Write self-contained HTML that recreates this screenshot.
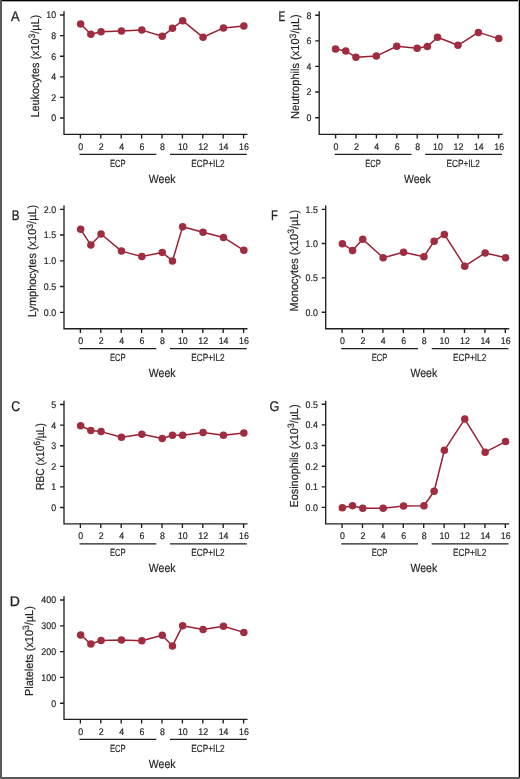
<!DOCTYPE html>
<html><head><meta charset="utf-8"><title>Figure</title>
<style>
html,body{margin:0;padding:0;background:#fff;}
body{width:520px;height:779px;overflow:hidden;}
svg{display:block;will-change:transform;}
text{text-rendering:geometricPrecision;font-family:"Liberation Sans", sans-serif;fill:#231f20;stroke:#231f20;stroke-width:0.18px;}
.ax{fill:none;stroke:#231f20;stroke-width:1.35;}
.tl{font-size:9.6px;}
.gl{font-size:10.4px;}
.wk{font-size:12.0px;}
.lt{font-size:14.0px;stroke-width:0.3px;}
.yl{font-size:11.6px;}
.dl{fill:none;stroke:#9b2036;stroke-width:1.5;stroke-linejoin:round;}
.mk{fill:#a02d3f;}
</style></head>
<body>
<svg width="520" height="779" viewBox="0 0 520 779">
<rect x="0" y="0" width="520" height="779" fill="#fff"/>
<path d="M64 11.3V134.4H247.5" class="ax"/>
<path d="M60 15H64M60 35.6H64M60 56.2H64M60 76.8H64M60 97.4H64M60 118H64M80.4 134.4v4.2M100.8 134.4v4.2M121.2 134.4v4.2M141.6 134.4v4.2M162 134.4v4.2M182.4 134.4v4.2M202.8 134.4v4.2M223.2 134.4v4.2M243.6 134.4v4.2" class="ax"/>
<path d="M79.5 154.3H156.3M170 154.3H246.8" class="ax"/>
<text x="56.1" y="18.4" class="tl" text-anchor="end" textLength="9.82" lengthAdjust="spacingAndGlyphs">10</text>
<text x="56.1" y="39" class="tl" text-anchor="end" textLength="4.91" lengthAdjust="spacingAndGlyphs">8</text>
<text x="56.1" y="59.6" class="tl" text-anchor="end" textLength="4.91" lengthAdjust="spacingAndGlyphs">6</text>
<text x="56.1" y="80.2" class="tl" text-anchor="end" textLength="4.91" lengthAdjust="spacingAndGlyphs">4</text>
<text x="56.1" y="100.8" class="tl" text-anchor="end" textLength="4.91" lengthAdjust="spacingAndGlyphs">2</text>
<text x="56.1" y="121.4" class="tl" text-anchor="end" textLength="4.91" lengthAdjust="spacingAndGlyphs">0</text>
<text x="80.8" y="149.8" class="tl" text-anchor="middle" textLength="4.91" lengthAdjust="spacingAndGlyphs">0</text>
<text x="101.2" y="149.8" class="tl" text-anchor="middle" textLength="4.91" lengthAdjust="spacingAndGlyphs">2</text>
<text x="121.6" y="149.8" class="tl" text-anchor="middle" textLength="4.91" lengthAdjust="spacingAndGlyphs">4</text>
<text x="142" y="149.8" class="tl" text-anchor="middle" textLength="4.91" lengthAdjust="spacingAndGlyphs">6</text>
<text x="162.4" y="149.8" class="tl" text-anchor="middle" textLength="4.91" lengthAdjust="spacingAndGlyphs">8</text>
<text x="182.8" y="149.8" class="tl" text-anchor="middle" textLength="9.82" lengthAdjust="spacingAndGlyphs">10</text>
<text x="203.2" y="149.8" class="tl" text-anchor="middle" textLength="9.82" lengthAdjust="spacingAndGlyphs">12</text>
<text x="223.6" y="149.8" class="tl" text-anchor="middle" textLength="9.82" lengthAdjust="spacingAndGlyphs">14</text>
<text x="244" y="149.8" class="tl" text-anchor="middle" textLength="9.82" lengthAdjust="spacingAndGlyphs">16</text>
<text x="110" y="166.6" class="gl" textLength="15.7" lengthAdjust="spacingAndGlyphs">ECP</text>
<text x="191.3" y="166.6" class="gl" textLength="33.3" lengthAdjust="spacingAndGlyphs">ECP+IL2</text>
<text x="148.8" y="182.8" class="wk" textLength="26.7" lengthAdjust="spacingAndGlyphs">Week</text>
<text x="10.97" y="21" class="lt" textLength="8.55" lengthAdjust="spacingAndGlyphs">A</text>
<text transform="translate(38.5 117.5) rotate(-90)" x="0" y="0" class="yl" textLength="102.7" lengthAdjust="spacingAndGlyphs">Leukocytes (x10<tspan font-size="9.2" dy="-3.8">3</tspan><tspan dy="3.8">/µL)</tspan></text>
<path d="M80.65 24 L90.85 34.3 L101.05 31.8 L121.45 31.1 L141.85 30.1 L162.25 36.3 L172.45 28.3 L182.65 20.7 L203.05 37.3 L223.45 27.9 L243.85 26.1" class="dl"/>
<circle cx="80.65" cy="24" r="3.75" class="mk"/>
<circle cx="90.85" cy="34.3" r="3.75" class="mk"/>
<circle cx="101.05" cy="31.8" r="3.75" class="mk"/>
<circle cx="121.45" cy="31.1" r="3.75" class="mk"/>
<circle cx="141.85" cy="30.1" r="3.75" class="mk"/>
<circle cx="162.25" cy="36.3" r="3.75" class="mk"/>
<circle cx="172.45" cy="28.3" r="3.75" class="mk"/>
<circle cx="182.65" cy="20.7" r="3.75" class="mk"/>
<circle cx="203.05" cy="37.3" r="3.75" class="mk"/>
<circle cx="223.45" cy="27.9" r="3.75" class="mk"/>
<circle cx="243.85" cy="26.1" r="3.75" class="mk"/>
<path d="M64 205.6V328.7H247.5" class="ax"/>
<path d="M60 209.3H64M60 235H64M60 260.8H64M60 286.5H64M60 312.3H64M80.4 328.7v4.2M100.8 328.7v4.2M121.2 328.7v4.2M141.6 328.7v4.2M162 328.7v4.2M182.4 328.7v4.2M202.8 328.7v4.2M223.2 328.7v4.2M243.6 328.7v4.2" class="ax"/>
<path d="M79.5 348.6H156.3M170 348.6H246.8" class="ax"/>
<text x="56.1" y="212.7" class="tl" text-anchor="end" textLength="12.28" lengthAdjust="spacingAndGlyphs">2.0</text>
<text x="56.1" y="238.4" class="tl" text-anchor="end" textLength="12.28" lengthAdjust="spacingAndGlyphs">1.5</text>
<text x="56.1" y="264.2" class="tl" text-anchor="end" textLength="12.28" lengthAdjust="spacingAndGlyphs">1.0</text>
<text x="56.1" y="289.9" class="tl" text-anchor="end" textLength="12.28" lengthAdjust="spacingAndGlyphs">0.5</text>
<text x="56.1" y="315.7" class="tl" text-anchor="end" textLength="12.28" lengthAdjust="spacingAndGlyphs">0.0</text>
<text x="80.8" y="344.1" class="tl" text-anchor="middle" textLength="4.91" lengthAdjust="spacingAndGlyphs">0</text>
<text x="101.2" y="344.1" class="tl" text-anchor="middle" textLength="4.91" lengthAdjust="spacingAndGlyphs">2</text>
<text x="121.6" y="344.1" class="tl" text-anchor="middle" textLength="4.91" lengthAdjust="spacingAndGlyphs">4</text>
<text x="142" y="344.1" class="tl" text-anchor="middle" textLength="4.91" lengthAdjust="spacingAndGlyphs">6</text>
<text x="162.4" y="344.1" class="tl" text-anchor="middle" textLength="4.91" lengthAdjust="spacingAndGlyphs">8</text>
<text x="182.8" y="344.1" class="tl" text-anchor="middle" textLength="9.82" lengthAdjust="spacingAndGlyphs">10</text>
<text x="203.2" y="344.1" class="tl" text-anchor="middle" textLength="9.82" lengthAdjust="spacingAndGlyphs">12</text>
<text x="223.6" y="344.1" class="tl" text-anchor="middle" textLength="9.82" lengthAdjust="spacingAndGlyphs">14</text>
<text x="244" y="344.1" class="tl" text-anchor="middle" textLength="9.82" lengthAdjust="spacingAndGlyphs">16</text>
<text x="110" y="360.9" class="gl" textLength="15.7" lengthAdjust="spacingAndGlyphs">ECP</text>
<text x="191.3" y="360.9" class="gl" textLength="33.3" lengthAdjust="spacingAndGlyphs">ECP+IL2</text>
<text x="148.8" y="377.1" class="wk" textLength="26.7" lengthAdjust="spacingAndGlyphs">Week</text>
<text x="11.84" y="219.8" class="lt" textLength="7.77" lengthAdjust="spacingAndGlyphs">B</text>
<text transform="translate(36.4 317.2) rotate(-90)" x="0" y="0" class="yl" textLength="112.4" lengthAdjust="spacingAndGlyphs">Lymphocytes (x10<tspan font-size="9.2" dy="-3.8">3</tspan><tspan dy="3.8">/µL)</tspan></text>
<path d="M80.65 229.3 L90.85 245.1 L101.05 234 L121.45 251.1 L141.85 256.6 L162.25 252.4 L172.45 260.9 L182.65 226.8 L203.05 232.2 L223.45 237.4 L243.85 250.3" class="dl"/>
<circle cx="80.65" cy="229.3" r="3.75" class="mk"/>
<circle cx="90.85" cy="245.1" r="3.75" class="mk"/>
<circle cx="101.05" cy="234" r="3.75" class="mk"/>
<circle cx="121.45" cy="251.1" r="3.75" class="mk"/>
<circle cx="141.85" cy="256.6" r="3.75" class="mk"/>
<circle cx="162.25" cy="252.4" r="3.75" class="mk"/>
<circle cx="172.45" cy="260.9" r="3.75" class="mk"/>
<circle cx="182.65" cy="226.8" r="3.75" class="mk"/>
<circle cx="203.05" cy="232.2" r="3.75" class="mk"/>
<circle cx="223.45" cy="237.4" r="3.75" class="mk"/>
<circle cx="243.85" cy="250.3" r="3.75" class="mk"/>
<path d="M64 400.8V523.9H247.5" class="ax"/>
<path d="M60 404.5H64M60 425.1H64M60 445.7H64M60 466.3H64M60 486.9H64M60 507.5H64M80.4 523.9v4.2M100.8 523.9v4.2M121.2 523.9v4.2M141.6 523.9v4.2M162 523.9v4.2M182.4 523.9v4.2M202.8 523.9v4.2M223.2 523.9v4.2M243.6 523.9v4.2" class="ax"/>
<path d="M79.5 543.8H156.3M170 543.8H246.8" class="ax"/>
<text x="56.1" y="407.9" class="tl" text-anchor="end" textLength="4.91" lengthAdjust="spacingAndGlyphs">5</text>
<text x="56.1" y="428.5" class="tl" text-anchor="end" textLength="4.91" lengthAdjust="spacingAndGlyphs">4</text>
<text x="56.1" y="449.1" class="tl" text-anchor="end" textLength="4.91" lengthAdjust="spacingAndGlyphs">3</text>
<text x="56.1" y="469.7" class="tl" text-anchor="end" textLength="4.91" lengthAdjust="spacingAndGlyphs">2</text>
<text x="56.1" y="490.3" class="tl" text-anchor="end" textLength="4.91" lengthAdjust="spacingAndGlyphs">1</text>
<text x="56.1" y="510.9" class="tl" text-anchor="end" textLength="4.91" lengthAdjust="spacingAndGlyphs">0</text>
<text x="80.8" y="539.3" class="tl" text-anchor="middle" textLength="4.91" lengthAdjust="spacingAndGlyphs">0</text>
<text x="101.2" y="539.3" class="tl" text-anchor="middle" textLength="4.91" lengthAdjust="spacingAndGlyphs">2</text>
<text x="121.6" y="539.3" class="tl" text-anchor="middle" textLength="4.91" lengthAdjust="spacingAndGlyphs">4</text>
<text x="142" y="539.3" class="tl" text-anchor="middle" textLength="4.91" lengthAdjust="spacingAndGlyphs">6</text>
<text x="162.4" y="539.3" class="tl" text-anchor="middle" textLength="4.91" lengthAdjust="spacingAndGlyphs">8</text>
<text x="182.8" y="539.3" class="tl" text-anchor="middle" textLength="9.82" lengthAdjust="spacingAndGlyphs">10</text>
<text x="203.2" y="539.3" class="tl" text-anchor="middle" textLength="9.82" lengthAdjust="spacingAndGlyphs">12</text>
<text x="223.6" y="539.3" class="tl" text-anchor="middle" textLength="9.82" lengthAdjust="spacingAndGlyphs">14</text>
<text x="244" y="539.3" class="tl" text-anchor="middle" textLength="9.82" lengthAdjust="spacingAndGlyphs">16</text>
<text x="110" y="556.1" class="gl" textLength="15.7" lengthAdjust="spacingAndGlyphs">ECP</text>
<text x="191.3" y="556.1" class="gl" textLength="33.3" lengthAdjust="spacingAndGlyphs">ECP+IL2</text>
<text x="148.8" y="572.3" class="wk" textLength="26.7" lengthAdjust="spacingAndGlyphs">Week</text>
<text x="11.37" y="410.7" class="lt" textLength="8.89" lengthAdjust="spacingAndGlyphs">C</text>
<text transform="translate(43.9 489.9) rotate(-90)" x="0" y="0" class="yl" textLength="66.7" lengthAdjust="spacingAndGlyphs">RBC (x10<tspan font-size="9.2" dy="-3.8">6</tspan><tspan dy="3.8">/µL)</tspan></text>
<path d="M80.65 425.7 L90.85 430.5 L101.05 431.6 L121.45 437.2 L141.85 434.3 L162.25 438.5 L172.45 435.3 L182.65 435.3 L203.05 432.4 L223.45 435.3 L243.85 433" class="dl"/>
<circle cx="80.65" cy="425.7" r="3.75" class="mk"/>
<circle cx="90.85" cy="430.5" r="3.75" class="mk"/>
<circle cx="101.05" cy="431.6" r="3.75" class="mk"/>
<circle cx="121.45" cy="437.2" r="3.75" class="mk"/>
<circle cx="141.85" cy="434.3" r="3.75" class="mk"/>
<circle cx="162.25" cy="438.5" r="3.75" class="mk"/>
<circle cx="172.45" cy="435.3" r="3.75" class="mk"/>
<circle cx="182.65" cy="435.3" r="3.75" class="mk"/>
<circle cx="203.05" cy="432.4" r="3.75" class="mk"/>
<circle cx="223.45" cy="435.3" r="3.75" class="mk"/>
<circle cx="243.85" cy="433" r="3.75" class="mk"/>
<path d="M64 596.3V719.4H247.5" class="ax"/>
<path d="M60 600H64M60 625.8H64M60 651.6H64M60 677.4H64M60 703.2H64M80.4 719.4v4.2M100.8 719.4v4.2M121.2 719.4v4.2M141.6 719.4v4.2M162 719.4v4.2M182.4 719.4v4.2M202.8 719.4v4.2M223.2 719.4v4.2M243.6 719.4v4.2" class="ax"/>
<path d="M79.5 739.3H156.3M170 739.3H246.8" class="ax"/>
<text x="56.1" y="603.4" class="tl" text-anchor="end" textLength="14.74" lengthAdjust="spacingAndGlyphs">400</text>
<text x="56.1" y="629.2" class="tl" text-anchor="end" textLength="14.74" lengthAdjust="spacingAndGlyphs">300</text>
<text x="56.1" y="655" class="tl" text-anchor="end" textLength="14.74" lengthAdjust="spacingAndGlyphs">200</text>
<text x="56.1" y="680.8" class="tl" text-anchor="end" textLength="14.74" lengthAdjust="spacingAndGlyphs">100</text>
<text x="56.1" y="706.6" class="tl" text-anchor="end" textLength="4.91" lengthAdjust="spacingAndGlyphs">0</text>
<text x="80.8" y="734.8" class="tl" text-anchor="middle" textLength="4.91" lengthAdjust="spacingAndGlyphs">0</text>
<text x="101.2" y="734.8" class="tl" text-anchor="middle" textLength="4.91" lengthAdjust="spacingAndGlyphs">2</text>
<text x="121.6" y="734.8" class="tl" text-anchor="middle" textLength="4.91" lengthAdjust="spacingAndGlyphs">4</text>
<text x="142" y="734.8" class="tl" text-anchor="middle" textLength="4.91" lengthAdjust="spacingAndGlyphs">6</text>
<text x="162.4" y="734.8" class="tl" text-anchor="middle" textLength="4.91" lengthAdjust="spacingAndGlyphs">8</text>
<text x="182.8" y="734.8" class="tl" text-anchor="middle" textLength="9.82" lengthAdjust="spacingAndGlyphs">10</text>
<text x="203.2" y="734.8" class="tl" text-anchor="middle" textLength="9.82" lengthAdjust="spacingAndGlyphs">12</text>
<text x="223.6" y="734.8" class="tl" text-anchor="middle" textLength="9.82" lengthAdjust="spacingAndGlyphs">14</text>
<text x="244" y="734.8" class="tl" text-anchor="middle" textLength="9.82" lengthAdjust="spacingAndGlyphs">16</text>
<text x="110" y="751.6" class="gl" textLength="15.7" lengthAdjust="spacingAndGlyphs">ECP</text>
<text x="191.3" y="751.6" class="gl" textLength="33.3" lengthAdjust="spacingAndGlyphs">ECP+IL2</text>
<text x="148.8" y="767.8" class="wk" textLength="26.7" lengthAdjust="spacingAndGlyphs">Week</text>
<text x="9.85" y="605.8" class="lt" textLength="10.12" lengthAdjust="spacingAndGlyphs">D</text>
<text transform="translate(33.1 696) rotate(-90)" x="0" y="0" class="yl" textLength="89.8" lengthAdjust="spacingAndGlyphs">Platelets (x10<tspan font-size="9.2" dy="-3.8">3</tspan><tspan dy="3.8">/µL)</tspan></text>
<path d="M80.65 634.9 L90.85 644 L101.05 640.5 L121.45 640.1 L141.85 640.7 L162.25 635.3 L172.45 645.9 L182.65 625.7 L203.05 629.5 L223.45 626.3 L243.85 632.4" class="dl"/>
<circle cx="80.65" cy="634.9" r="3.75" class="mk"/>
<circle cx="90.85" cy="644" r="3.75" class="mk"/>
<circle cx="101.05" cy="640.5" r="3.75" class="mk"/>
<circle cx="121.45" cy="640.1" r="3.75" class="mk"/>
<circle cx="141.85" cy="640.7" r="3.75" class="mk"/>
<circle cx="162.25" cy="635.3" r="3.75" class="mk"/>
<circle cx="172.45" cy="645.9" r="3.75" class="mk"/>
<circle cx="182.65" cy="625.7" r="3.75" class="mk"/>
<circle cx="203.05" cy="629.5" r="3.75" class="mk"/>
<circle cx="223.45" cy="626.3" r="3.75" class="mk"/>
<circle cx="243.85" cy="632.4" r="3.75" class="mk"/>
<path d="M319.2 11.3V134.4H502.7" class="ax"/>
<path d="M315.2 15.2H319.2M315.2 40.8H319.2M315.2 66.4H319.2M315.2 92H319.2M315.2 117.7H319.2M335.6 134.4v4.2M356 134.4v4.2M376.4 134.4v4.2M396.8 134.4v4.2M417.2 134.4v4.2M437.6 134.4v4.2M458 134.4v4.2M478.4 134.4v4.2M498.8 134.4v4.2" class="ax"/>
<path d="M334.7 154.3H411.5M425.2 154.3H502" class="ax"/>
<text x="311.3" y="18.6" class="tl" text-anchor="end" textLength="4.91" lengthAdjust="spacingAndGlyphs">8</text>
<text x="311.3" y="44.2" class="tl" text-anchor="end" textLength="4.91" lengthAdjust="spacingAndGlyphs">6</text>
<text x="311.3" y="69.8" class="tl" text-anchor="end" textLength="4.91" lengthAdjust="spacingAndGlyphs">4</text>
<text x="311.3" y="95.4" class="tl" text-anchor="end" textLength="4.91" lengthAdjust="spacingAndGlyphs">2</text>
<text x="311.3" y="121.1" class="tl" text-anchor="end" textLength="4.91" lengthAdjust="spacingAndGlyphs">0</text>
<text x="336" y="149.8" class="tl" text-anchor="middle" textLength="4.91" lengthAdjust="spacingAndGlyphs">0</text>
<text x="356.4" y="149.8" class="tl" text-anchor="middle" textLength="4.91" lengthAdjust="spacingAndGlyphs">2</text>
<text x="376.8" y="149.8" class="tl" text-anchor="middle" textLength="4.91" lengthAdjust="spacingAndGlyphs">4</text>
<text x="397.2" y="149.8" class="tl" text-anchor="middle" textLength="4.91" lengthAdjust="spacingAndGlyphs">6</text>
<text x="417.6" y="149.8" class="tl" text-anchor="middle" textLength="4.91" lengthAdjust="spacingAndGlyphs">8</text>
<text x="438" y="149.8" class="tl" text-anchor="middle" textLength="9.82" lengthAdjust="spacingAndGlyphs">10</text>
<text x="458.4" y="149.8" class="tl" text-anchor="middle" textLength="9.82" lengthAdjust="spacingAndGlyphs">12</text>
<text x="478.8" y="149.8" class="tl" text-anchor="middle" textLength="9.82" lengthAdjust="spacingAndGlyphs">14</text>
<text x="499.2" y="149.8" class="tl" text-anchor="middle" textLength="9.82" lengthAdjust="spacingAndGlyphs">16</text>
<text x="365.2" y="166.6" class="gl" textLength="15.7" lengthAdjust="spacingAndGlyphs">ECP</text>
<text x="446.5" y="166.6" class="gl" textLength="33.3" lengthAdjust="spacingAndGlyphs">ECP+IL2</text>
<text x="404" y="182.8" class="wk" textLength="26.7" lengthAdjust="spacingAndGlyphs">Week</text>
<text x="278.47" y="20.8" class="lt" textLength="6.77" lengthAdjust="spacingAndGlyphs">E</text>
<text transform="translate(299.3 119) rotate(-90)" x="0" y="0" class="yl" textLength="104.8" lengthAdjust="spacingAndGlyphs">Neutrophils (x10<tspan font-size="9.2" dy="-3.8">3</tspan><tspan dy="3.8">/µL)</tspan></text>
<path d="M335.55 49.1 L345.75 51.1 L355.95 57.2 L376.35 56.1 L396.75 46.3 L417.15 48.2 L427.35 46.6 L437.55 37.2 L457.95 45.3 L478.35 32.4 L498.75 38.6" class="dl"/>
<circle cx="335.55" cy="49.1" r="3.75" class="mk"/>
<circle cx="345.75" cy="51.1" r="3.75" class="mk"/>
<circle cx="355.95" cy="57.2" r="3.75" class="mk"/>
<circle cx="376.35" cy="56.1" r="3.75" class="mk"/>
<circle cx="396.75" cy="46.3" r="3.75" class="mk"/>
<circle cx="417.15" cy="48.2" r="3.75" class="mk"/>
<circle cx="427.35" cy="46.6" r="3.75" class="mk"/>
<circle cx="437.55" cy="37.2" r="3.75" class="mk"/>
<circle cx="457.95" cy="45.3" r="3.75" class="mk"/>
<circle cx="478.35" cy="32.4" r="3.75" class="mk"/>
<circle cx="498.75" cy="38.6" r="3.75" class="mk"/>
<path d="M325.7 205.6V328.7H509.2" class="ax"/>
<path d="M321.7 209.3H325.7M321.7 243.5H325.7M321.7 277.8H325.7M321.7 312.2H325.7M342.1 328.7v4.2M362.5 328.7v4.2M382.9 328.7v4.2M403.3 328.7v4.2M423.7 328.7v4.2M444.1 328.7v4.2M464.5 328.7v4.2M484.9 328.7v4.2M505.3 328.7v4.2" class="ax"/>
<path d="M341.2 348.6H418M431.7 348.6H508.5" class="ax"/>
<text x="317.8" y="212.7" class="tl" text-anchor="end" textLength="12.28" lengthAdjust="spacingAndGlyphs">1.5</text>
<text x="317.8" y="246.9" class="tl" text-anchor="end" textLength="12.28" lengthAdjust="spacingAndGlyphs">1.0</text>
<text x="317.8" y="281.2" class="tl" text-anchor="end" textLength="12.28" lengthAdjust="spacingAndGlyphs">0.5</text>
<text x="317.8" y="315.6" class="tl" text-anchor="end" textLength="12.28" lengthAdjust="spacingAndGlyphs">0.0</text>
<text x="342.5" y="344.1" class="tl" text-anchor="middle" textLength="4.91" lengthAdjust="spacingAndGlyphs">0</text>
<text x="362.9" y="344.1" class="tl" text-anchor="middle" textLength="4.91" lengthAdjust="spacingAndGlyphs">2</text>
<text x="383.3" y="344.1" class="tl" text-anchor="middle" textLength="4.91" lengthAdjust="spacingAndGlyphs">4</text>
<text x="403.7" y="344.1" class="tl" text-anchor="middle" textLength="4.91" lengthAdjust="spacingAndGlyphs">6</text>
<text x="424.1" y="344.1" class="tl" text-anchor="middle" textLength="4.91" lengthAdjust="spacingAndGlyphs">8</text>
<text x="444.5" y="344.1" class="tl" text-anchor="middle" textLength="9.82" lengthAdjust="spacingAndGlyphs">10</text>
<text x="464.9" y="344.1" class="tl" text-anchor="middle" textLength="9.82" lengthAdjust="spacingAndGlyphs">12</text>
<text x="485.3" y="344.1" class="tl" text-anchor="middle" textLength="9.82" lengthAdjust="spacingAndGlyphs">14</text>
<text x="505.7" y="344.1" class="tl" text-anchor="middle" textLength="9.82" lengthAdjust="spacingAndGlyphs">16</text>
<text x="371.7" y="360.9" class="gl" textLength="15.7" lengthAdjust="spacingAndGlyphs">ECP</text>
<text x="453" y="360.9" class="gl" textLength="33.3" lengthAdjust="spacingAndGlyphs">ECP+IL2</text>
<text x="410.5" y="377.1" class="wk" textLength="26.7" lengthAdjust="spacingAndGlyphs">Week</text>
<text x="271.08" y="219.8" class="lt" textLength="6.87" lengthAdjust="spacingAndGlyphs">F</text>
<text transform="translate(297.5 311.5) rotate(-90)" x="0" y="0" class="yl" textLength="101.7" lengthAdjust="spacingAndGlyphs">Monocytes (x10<tspan font-size="9.2" dy="-3.8">3</tspan><tspan dy="3.8">/µL)</tspan></text>
<path d="M342.35 243.7 L352.55 250.4 L362.75 239.3 L383.15 257.7 L403.55 252.3 L423.95 256.7 L434.15 241.2 L444.35 234.4 L464.75 266.2 L485.15 252.9 L505.55 257.7" class="dl"/>
<circle cx="342.35" cy="243.7" r="3.75" class="mk"/>
<circle cx="352.55" cy="250.4" r="3.75" class="mk"/>
<circle cx="362.75" cy="239.3" r="3.75" class="mk"/>
<circle cx="383.15" cy="257.7" r="3.75" class="mk"/>
<circle cx="403.55" cy="252.3" r="3.75" class="mk"/>
<circle cx="423.95" cy="256.7" r="3.75" class="mk"/>
<circle cx="434.15" cy="241.2" r="3.75" class="mk"/>
<circle cx="444.35" cy="234.4" r="3.75" class="mk"/>
<circle cx="464.75" cy="266.2" r="3.75" class="mk"/>
<circle cx="485.15" cy="252.9" r="3.75" class="mk"/>
<circle cx="505.55" cy="257.7" r="3.75" class="mk"/>
<path d="M325.7 400.8V523.9H509.2" class="ax"/>
<path d="M321.7 404.2H325.7M321.7 424.9H325.7M321.7 445.5H325.7M321.7 466.2H325.7M321.7 486.8H325.7M321.7 507.4H325.7M342.1 523.9v4.2M362.5 523.9v4.2M382.9 523.9v4.2M403.3 523.9v4.2M423.7 523.9v4.2M444.1 523.9v4.2M464.5 523.9v4.2M484.9 523.9v4.2M505.3 523.9v4.2" class="ax"/>
<path d="M341.2 543.8H418M431.7 543.8H508.5" class="ax"/>
<text x="317.8" y="407.6" class="tl" text-anchor="end" textLength="12.28" lengthAdjust="spacingAndGlyphs">0.5</text>
<text x="317.8" y="428.3" class="tl" text-anchor="end" textLength="12.28" lengthAdjust="spacingAndGlyphs">0.4</text>
<text x="317.8" y="448.9" class="tl" text-anchor="end" textLength="12.28" lengthAdjust="spacingAndGlyphs">0.3</text>
<text x="317.8" y="469.6" class="tl" text-anchor="end" textLength="12.28" lengthAdjust="spacingAndGlyphs">0.2</text>
<text x="317.8" y="490.2" class="tl" text-anchor="end" textLength="12.28" lengthAdjust="spacingAndGlyphs">0.1</text>
<text x="317.8" y="510.8" class="tl" text-anchor="end" textLength="12.28" lengthAdjust="spacingAndGlyphs">0.0</text>
<text x="342.5" y="539.3" class="tl" text-anchor="middle" textLength="4.91" lengthAdjust="spacingAndGlyphs">0</text>
<text x="362.9" y="539.3" class="tl" text-anchor="middle" textLength="4.91" lengthAdjust="spacingAndGlyphs">2</text>
<text x="383.3" y="539.3" class="tl" text-anchor="middle" textLength="4.91" lengthAdjust="spacingAndGlyphs">4</text>
<text x="403.7" y="539.3" class="tl" text-anchor="middle" textLength="4.91" lengthAdjust="spacingAndGlyphs">6</text>
<text x="424.1" y="539.3" class="tl" text-anchor="middle" textLength="4.91" lengthAdjust="spacingAndGlyphs">8</text>
<text x="444.5" y="539.3" class="tl" text-anchor="middle" textLength="9.82" lengthAdjust="spacingAndGlyphs">10</text>
<text x="464.9" y="539.3" class="tl" text-anchor="middle" textLength="9.82" lengthAdjust="spacingAndGlyphs">12</text>
<text x="485.3" y="539.3" class="tl" text-anchor="middle" textLength="9.82" lengthAdjust="spacingAndGlyphs">14</text>
<text x="505.7" y="539.3" class="tl" text-anchor="middle" textLength="9.82" lengthAdjust="spacingAndGlyphs">16</text>
<text x="371.7" y="556.1" class="gl" textLength="15.7" lengthAdjust="spacingAndGlyphs">ECP</text>
<text x="453" y="556.1" class="gl" textLength="33.3" lengthAdjust="spacingAndGlyphs">ECP+IL2</text>
<text x="410.5" y="572.3" class="wk" textLength="26.7" lengthAdjust="spacingAndGlyphs">Week</text>
<text x="269.56" y="410.8" class="lt" textLength="9.89" lengthAdjust="spacingAndGlyphs">G</text>
<text transform="translate(297.8 507.4) rotate(-90)" x="0" y="0" class="yl" textLength="102.9" lengthAdjust="spacingAndGlyphs">Eosinophils (x10<tspan font-size="9.2" dy="-3.8">3</tspan><tspan dy="3.8">/µL)</tspan></text>
<path d="M342.35 507.8 L352.55 505.7 L362.75 508.2 L383.15 508.2 L403.55 505.9 L423.95 505.8 L434.15 491.3 L444.35 450.3 L464.75 419.1 L485.15 452.2 L505.55 441.6" class="dl"/>
<circle cx="342.35" cy="507.8" r="3.75" class="mk"/>
<circle cx="352.55" cy="505.7" r="3.75" class="mk"/>
<circle cx="362.75" cy="508.2" r="3.75" class="mk"/>
<circle cx="383.15" cy="508.2" r="3.75" class="mk"/>
<circle cx="403.55" cy="505.9" r="3.75" class="mk"/>
<circle cx="423.95" cy="505.8" r="3.75" class="mk"/>
<circle cx="434.15" cy="491.3" r="3.75" class="mk"/>
<circle cx="444.35" cy="450.3" r="3.75" class="mk"/>
<circle cx="464.75" cy="419.1" r="3.75" class="mk"/>
<circle cx="485.15" cy="452.2" r="3.75" class="mk"/>
<circle cx="505.55" cy="441.6" r="3.75" class="mk"/>
<rect x="0" y="2" width="520" height="1" fill="#fafafa"/>
<rect x="0" y="1" width="520" height="1" fill="#a8a8a8"/>
<rect x="0" y="0" width="520" height="1" fill="#000"/>
<rect x="518" y="0" width="1" height="779" fill="#bdbdbd"/>
<rect x="519" y="0" width="1" height="779" fill="#000"/>
<rect x="0" y="0" width="2" height="779" fill="#5a5a5a"/>
<rect x="0" y="777" width="520" height="2" fill="#5a5a5a"/>
</svg>
</body></html>
